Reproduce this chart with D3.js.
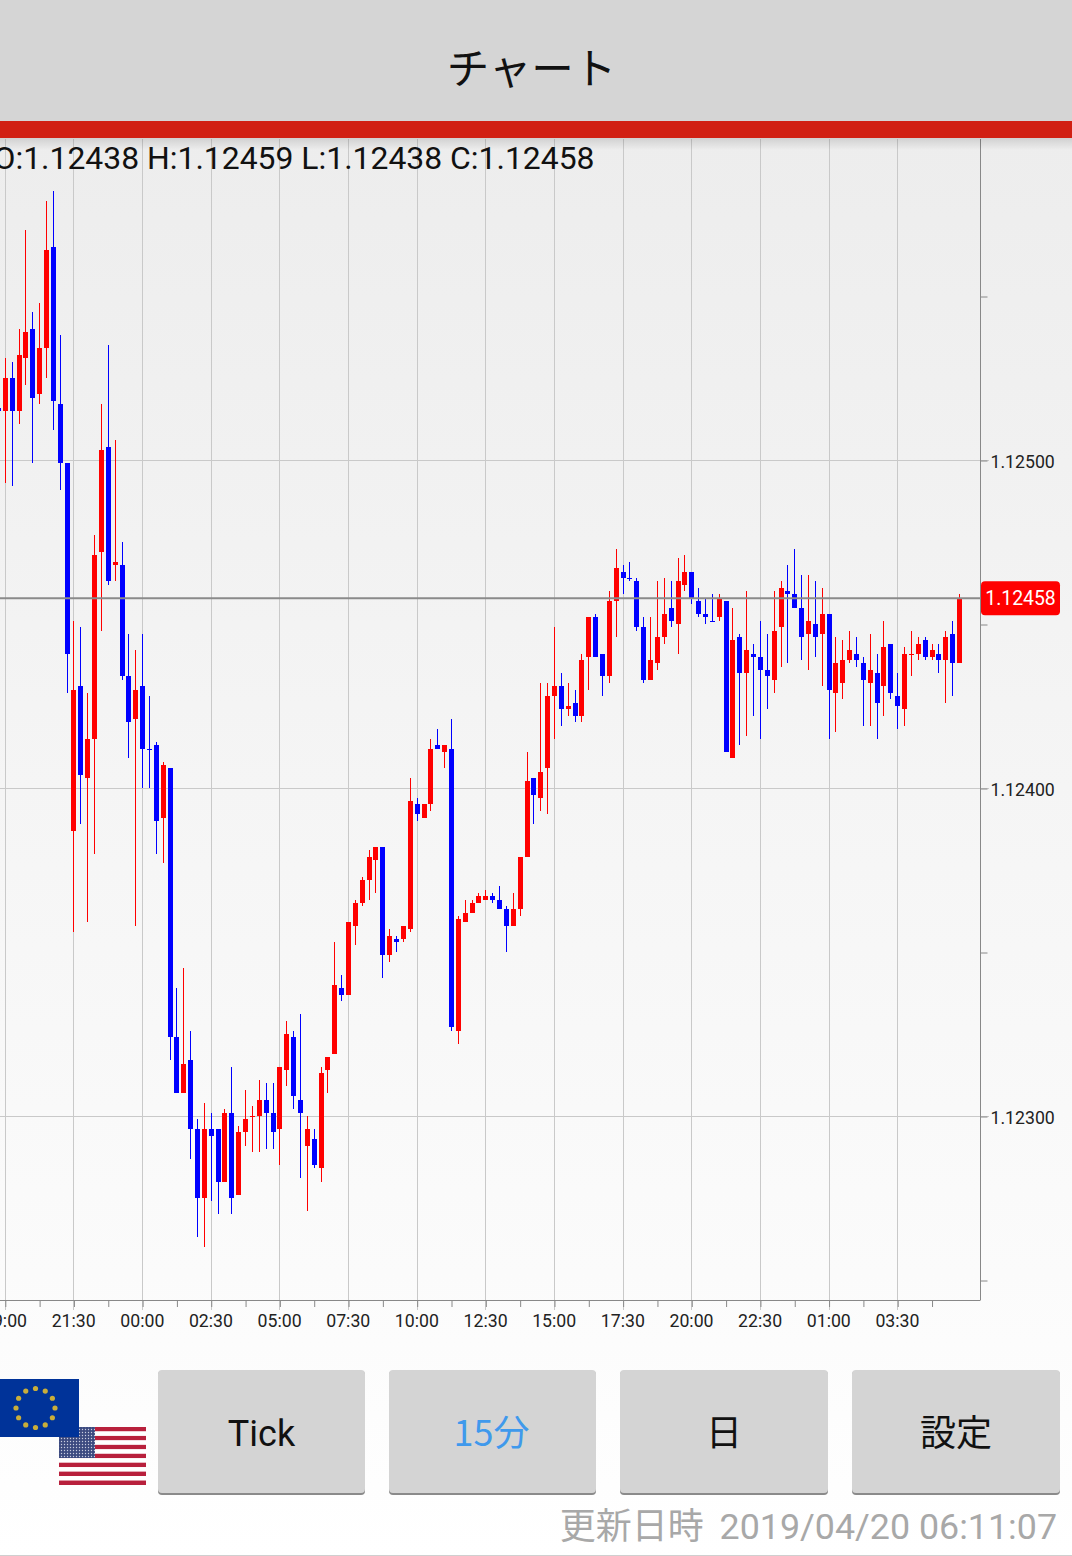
<!DOCTYPE html>
<html>
<head>
<meta charset="utf-8">
<script src="https://cdn.jsdelivr.net/npm/d3@7"></script>
<style>
    html, body { margin: 0; padding: 0; background: #fff; overflow: hidden; }
    svg { display: block; }
    text { font-family: Roboto, sans-serif; }
    .jp { font-family: "Noto Sans CJK JP", sans-serif; }
</style>
</head>
<body>
<svg id="chart" width="1072" height="1556"></svg>
<script>
// all prices are points from 1.12500 (1 = 0.00001)
const base = 1.125;
const opens = [16,
    15, 25, 15, 31, 40, 20, 34, 65, 17, -1,
    -113, -69, -97, -85, -28, 4, -32, -32, -66, -79,
    -69, -88, -87, -109, -94, -176, -193, -183, -204, -225,
    -204, -204, -220, -199, -224, -205, -200, -200, -195, -199,
    -204, -186, -176, -195, -209, -207, -216, -186, -181, -161,
    -163, -142, -135, -128, -122, -118, -151, -146, -146, -143,
    -105, -109, -105, -87, -89, -88, -174, -141, -138, -135,
    -134, -133, -134, -137, -142, -137, -121, -97, -103, -94,
    -72, -69, -76, -74, -78, -60, -48, -59, -66, -43,
    -34, -36, -37, -51, -67, -62, -54, -45, -50, -38,
    -34, -43, -47, -49, -48, -43, -91, -54, -65, -59,
    -60, -64, -67, -51, -40, -41, -45, -53, -50, -53,
    -47, -71, -68, -61, -59, -62, -68, -65, -69, -56,
    -72, -76, -59, -59, -55, -60, -59, -61, -53, -62];
const highs = [16,
    31, 30, 40, 70, 45, 48, 79, 82, 38, -1,
    -49, -51, -71, -23, 17, 35, 6, -25, -53, -58,
    -53, -72, -86, -92, -94, -161, -155, -174, -201, -196,
    -199, -204, -198, -185, -203, -192, -197, -189, -190, -190,
    -185, -171, -174, -169, -200, -204, -185, -182, -147, -157,
    -141, -134, -127, -119, -118, -118, -143, -145, -142, -97,
    -103, -105, -85, -82, -87, -79, -139, -134, -134, -132,
    -131, -132, -130, -136, -132, -121, -89, -97, -68, -68,
    -51, -65, -68, -70, -59, -48, -47, -59, -40, -27,
    -32, -31, -36, -48, -48, -37, -36, -37, -30, -29,
    -34, -39, -42, -41, -41, -43, -45, -53, -40, -56,
    -49, -53, -40, -37, -32, -27, -35, -35, -37, -39,
    -47, -54, -55, -52, -54, -60, -53, -59, -49, -56,
    -65, -57, -52, -54, -54, -56, -56, -52, -49, -41];
const lows = [15,
    -7, -8, 11, 23, -1, 17, 25, 9, -9, -71,
    -144, -111, -141, -120, -52, -38, -37, -67, -91, -142,
    -100, -100, -120, -123, -183, -193, -193, -213, -237, -240,
    -226, -230, -220, -230, -224, -209, -211, -211, -210, -210,
    -215, -191, -198, -219, -229, -216, -220, -193, -181, -165,
    -163, -148, -136, -134, -132, -158, -153, -150, -147, -144,
    -110, -109, -107, -88, -94, -174, -178, -141, -138, -135,
    -134, -135, -137, -150, -142, -139, -121, -111, -107, -108,
    -85, -81, -78, -80, -80, -70, -60, -72, -68, -54,
    -41, -37, -52, -68, -67, -64, -56, -51, -59, -40,
    -44, -48, -50, -49, -49, -89, -91, -87, -84, -78,
    -85, -76, -71, -63, -62, -45, -61, -64, -60, -69,
    -85, -83, -73, -62, -63, -81, -81, -85, -78, -73,
    -82, -81, -66, -61, -61, -61, -65, -74, -72, -62];
const closes = [15,
    25, 15, 32, 39, 19, 34, 64, 18, -1, -59,
    -70, -96, -85, -29, 3, -37, -31, -66, -80, -70,
    -88, -88, -110, -93, -176, -193, -184, -204, -225, -204,
    -206, -220, -199, -225, -205, -201, -200, -195, -199, -205,
    -185, -175, -194, -199, -204, -215, -187, -182, -160, -163,
    -141, -135, -128, -121, -118, -151, -145, -147, -142, -104,
    -108, -105, -88, -88, -87, -173, -140, -138, -135, -133,
    -133, -134, -137, -142, -137, -121, -98, -102, -95, -72,
    -69, -76, -75, -78, -61, -48, -60, -66, -43, -33,
    -36, -36, -51, -67, -61, -54, -47, -49, -37, -34,
    -42, -47, -48, -49, -42, -89, -55, -65, -58, -60,
    -64, -66, -52, -39, -41, -45, -54, -49, -54, -47,
    -70, -62, -61, -58, -61, -67, -64, -74, -57, -71,
    -75, -59, -59, -56, -60, -58, -61, -54, -62, -42];
// flat bars that are still drawn as falling
const flatDown = [22, 92, 104];

const timeLabels = ["19:00", "21:30", "00:00", "02:30", "05:00", "07:30", "10:00",
    "12:30", "15:00", "17:30", "20:00", "22:30", "01:00", "03:30"];
const priceTicks = [1.1255, 1.125, 1.1245, 1.124, 1.1235, 1.123, 1.1225];
const priceLabels = { "1.125": "1.12500", "1.124": "1.12400", "1.123": "1.12300" };
const buttons = ["Tick", "15分", "日", "設定"];

const price = p => base + p / 1e5;
const fmt = d3.format(".5f");
const bars = opens.map((o, i) => ({
    i, o: price(o), h: price(highs[i]), l: price(lows[i]), c: price(closes[i]),
    up: closes[i] >= o && !flatDown.includes(i)
}));
const last = bars[bars.length - 1];

const svg = d3.select("#chart");
const defs = svg.append("defs");

const bg = defs.append("linearGradient").attr("id", "bg").attr("x1", 0).attr("x2", 0).attr("y1", 0).attr("y2", 1);
bg.append("stop").attr("offset", 0).attr("stop-color", "#ededed");
bg.append("stop").attr("offset", 0.8).attr("stop-color", "#fbfbfb");
bg.append("stop").attr("offset", 1).attr("stop-color", "#ffffff");
const shade = defs.append("linearGradient").attr("id", "shade").attr("x1", 0).attr("x2", 0).attr("y1", 0).attr("y2", 1);
shade.append("stop").attr("offset", 0).attr("stop-color", "#000").attr("stop-opacity", 0.12);
shade.append("stop").attr("offset", 1).attr("stop-color", "#000").attr("stop-opacity", 0);
const canton = defs.append("pattern").attr("id", "canton").attr("patternUnits", "userSpaceOnUse")
    .attr("width", 3).attr("height", 3);
canton.append("rect").attr("width", 3).attr("height", 3).attr("fill", "#3c4a80");
canton.append("circle").attr("cx", 1.5).attr("cy", 1.5).attr("r", 0.7).attr("fill", "#c9cde0");

svg.append("rect").attr("x", 0).attr("y", 138).attr("width", 1072).attr("height", 1418).attr("fill", "url(#bg)");

// scales
const x = d3.scaleLinear().domain([1, 140]).range([5.3, 959.5]);
const y = d3.scaleLinear().domain([1.125, 1.124]).range([460.5, 788.5]);
const plot = { top: 139, bottom: 1300, right: 980.5 };

// grid
const xMajor = timeLabels.map((d, k) => 1 + k * 10);
const xMinor = timeLabels.map((d, k) => 6 + k * 10);
const yMajor = priceTicks.filter(p => priceLabels[p]);

svg.append("g").attr("stroke", "#c9c9c9").attr("shape-rendering", "crispEdges")
    .selectAll("line").data(xMajor).join("line")
    .attr("x1", d => x(d)).attr("x2", d => x(d))
    .attr("y1", plot.top).attr("y2", plot.bottom + 10);
svg.append("g").attr("stroke", "#c9c9c9").attr("shape-rendering", "crispEdges")
    .selectAll("line").data(yMajor).join("line")
    .attr("x1", 0).attr("x2", plot.right + 8)
    .attr("y1", d => y(d)).attr("y2", d => y(d));

// axes
const xAxis = d3.axisBottom(x)
    .tickValues(xMajor.concat(xMinor))
    .tickSize(7)
    .tickPadding(7)
    .tickFormat(d => (d - 1) % 10 === 0 ? timeLabels[(d - 1) / 10] : "");
const xg = svg.append("g").attr("transform", `translate(0,${plot.bottom})`).call(xAxis);
xg.select(".domain").attr("d", `M0,0.5H${plot.right}`).attr("stroke", "#888");
xg.selectAll("line").attr("stroke", "#888");
xg.selectAll("text").attr("font-size", 17.7).attr("fill", "#222").attr("font-family", "Roboto").attr("dx", -0.8);

const yAxis = d3.axisRight(y)
    .tickValues(priceTicks)
    .tickSize(7)
    .tickPadding(3)
    .tickFormat(d => priceLabels[d] || "");
const yg = svg.append("g").attr("transform", `translate(${plot.right},0)`).call(yAxis);
yg.select(".domain").attr("d", `M0,${plot.top}V${plot.bottom}`).attr("stroke", "#888");
yg.selectAll("line").attr("stroke", "#888");
yg.selectAll("text").attr("font-size", 17.7).attr("fill", "#222").attr("font-family", "Roboto").attr("y", 1);

// candles
const candles = svg.append("g").attr("shape-rendering", "crispEdges").attr("transform", "translate(0,-0.5)");
candles.selectAll("line").data(bars).join("line")
    .attr("x1", d => x(d.i)).attr("x2", d => x(d.i))
    .attr("y1", d => y(d.h)).attr("y2", d => y(d.l))
    .attr("stroke", d => d.up ? "#ff0000" : "#0000ff");
candles.selectAll("rect").data(bars).join("rect")
    .attr("x", d => x(d.i) - 2.5)
    .attr("width", 5)
    .attr("y", d => Math.min(y(d.o), y(d.c)))
    .attr("height", d => Math.max(1, Math.abs(y(d.o) - y(d.c))))
    .attr("fill", d => d.up ? "#ff0000" : "#0000ff");

// current price
svg.append("line").attr("x1", 0).attr("x2", plot.right)
    .attr("y1", y(last.c)).attr("y2", y(last.c))
    .attr("stroke", "#8a8a8a").attr("stroke-width", 2);
svg.append("rect").attr("x", 981).attr("y", y(last.c) - 17).attr("width", 79).attr("height", 34)
    .attr("rx", 4).attr("fill", "#ff0000");
svg.append("text").attr("x", 1020.5).attr("y", y(last.c) + 7).attr("text-anchor", "middle")
    .attr("font-size", 19.4).attr("fill", "#fff").text(fmt(last.c));

// ohlc line
svg.append("text").attr("x", -6.5).attr("y", 169).attr("font-size", 31.9).attr("fill", "#111")
    .text(`O:${fmt(last.o)} H:${fmt(last.h)} L:${fmt(last.l)} C:${fmt(last.c)}`);

// header
svg.append("rect").attr("x", 0).attr("y", 0).attr("width", 1072).attr("height", 121).attr("fill", "#d5d5d5");
svg.append("rect").attr("x", 0).attr("y", 121).attr("width", 1072).attr("height", 17).attr("fill", "#d12013");
svg.append("rect").attr("x", 0).attr("y", 138).attr("width", 1072).attr("height", 12).attr("fill", "url(#shade)");
svg.append("text").attr("class", "jp").attr("x", 531.5).attr("y", 84).attr("text-anchor", "middle")
    .attr("font-size", 42.5).attr("fill", "#111").text("チャート");

// flags
const us = svg.append("g");
const stripes = d3.range(13);
const stripeY = d3.scaleBand().domain(stripes).range([1427, 1485]);
us.selectAll("rect").data(stripes).join("rect")
    .attr("x", 59).attr("width", 87).attr("y", d => stripeY(d)).attr("height", stripeY.bandwidth())
    .attr("fill", d => d % 2 ? "#fff" : "#b8203c");
us.append("rect").attr("x", 59).attr("y", 1427).attr("width", 36).attr("height", 31).attr("fill", "url(#canton)");
svg.append("rect").attr("x", 0).attr("y", 1379).attr("width", 79).attr("height", 58).attr("fill", "#003399");
svg.append("g").selectAll("circle").data(d3.range(12)).join("circle")
    .attr("cx", d => 35.5 + 19.5 * Math.cos(d * Math.PI / 6))
    .attr("cy", d => 1408 + 19.5 * Math.sin(d * Math.PI / 6))
    .attr("r", 2.6).attr("fill", "#c9ae3a");

// buttons
const btnX = [158, 389, 620, 852];
const btnW = [207, 207, 208, 208];
const btn = svg.append("g").selectAll("g").data(buttons).join("g")
    .attr("transform", (d, i) => `translate(${btnX[i]},1370)`);
btn.append("rect").attr("y", 1).attr("width", (d, i) => btnW[i]).attr("height", 124).attr("rx", 4).attr("fill", "#8a8a8a");
btn.append("rect").attr("width", (d, i) => btnW[i]).attr("height", 123).attr("rx", 4).attr("fill", "#d4d4d4");
btn.append("text").attr("class", d => d === "Tick" ? null : "jp")
    .attr("x", (d, i) => btnW[i] / 2 - (d === "15分" ? 1 : 0)).attr("y", 76).attr("text-anchor", "middle")
    .attr("font-size", 36).attr("fill", d => d === "15分" ? "#3f99ec" : "#111").text(d => d);

// footer
const foot = svg.append("text").attr("x", 1057).attr("y", 1539).attr("text-anchor", "end").attr("fill", "#a8a8a8");
foot.append("tspan").attr("class", "jp").attr("font-size", 36).text("更新日時");
foot.append("tspan").attr("dx", 7).attr("font-size", 35.8).text(" 2019/04/20 06:11:07");
svg.append("line").attr("x1", 0).attr("x2", 1072).attr("y1", 1555.5).attr("y2", 1555.5).attr("stroke", "#cfcfcf");
</script>
</body>
</html>
